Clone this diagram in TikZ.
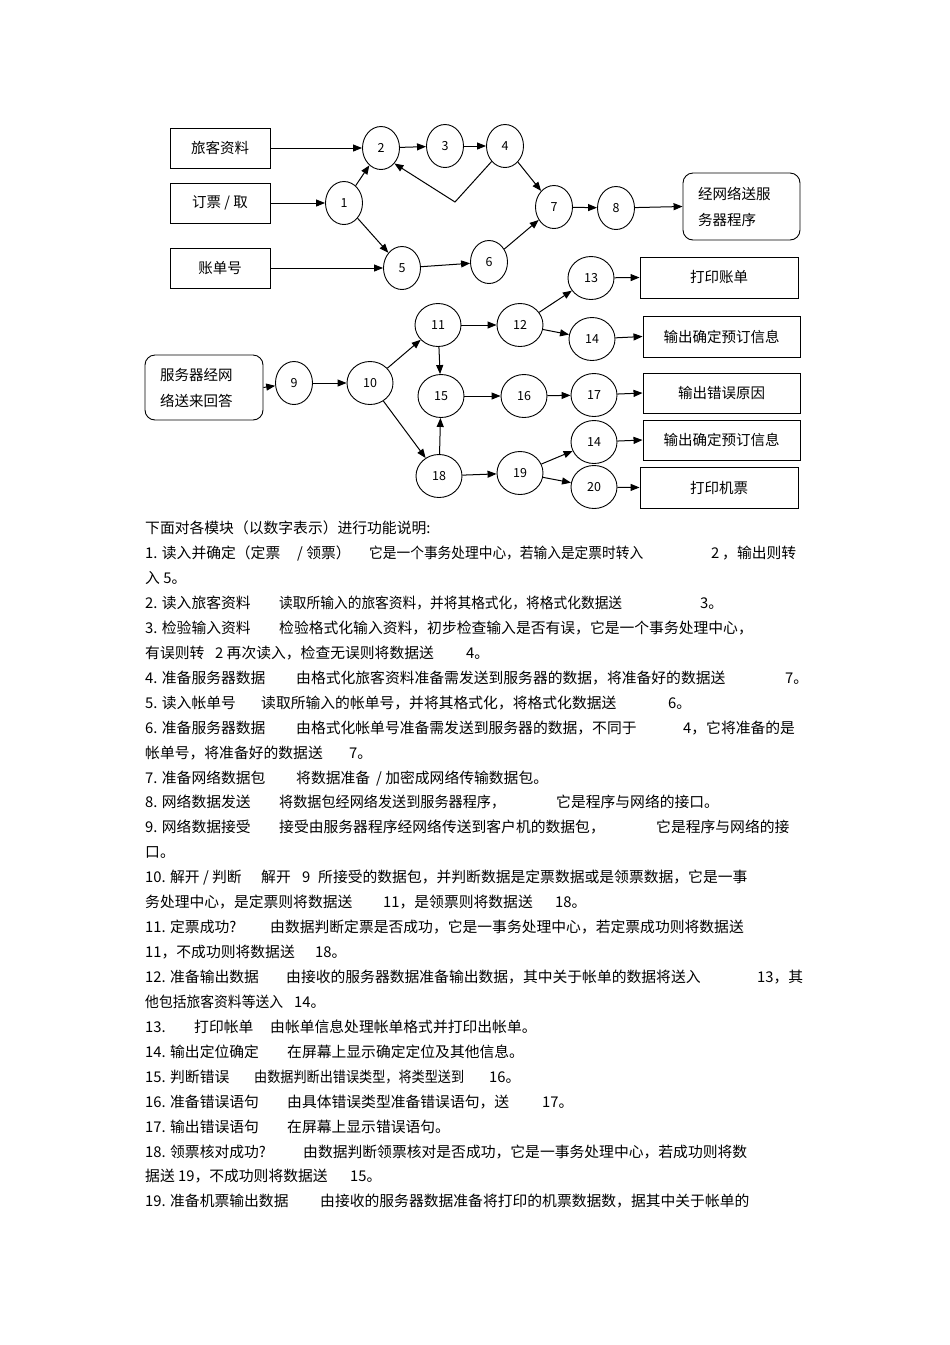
\documentclass[tikz,border=0pt]{standalone}
\usepackage{fontspec}
\usepackage{graphicx}
\setmainfont{Noto Sans CJK SC}
\usetikzlibrary{arrows.meta,shapes.geometric}
\newcommand\tx[3]{\node[txt] (t-#1-#2) at (#1,#2) {#3};}
\newcommand\tw[4]{\node[txt] (t-#1-#2) at (#1,#2) {\resizebox{#3pt}{\height}{#4}};}
\begin{document}
\begin{tikzpicture}[x=1pt,y=-1pt,
  circ/.style={draw,ellipse,line width=0.9pt,minimum width=37pt,minimum height=43pt,inner sep=0pt,font=\fontsize{12.5}{14}\selectfont},
  wcirc/.style={circ,minimum width=46pt},
  box/.style={draw,line width=0.9pt,inner sep=0pt,font=\fontsize{14.5}{17}\selectfont},
  rbox/.style={draw,line width=0.9pt,rounded corners=10pt,align=left,inner xsep=15pt,inner ysep=0pt,font=\fontsize{14.5}{26}\selectfont},
  arr/.style={-{Triangle[length=9pt,width=7pt]},line width=1pt},
  txt/.style={anchor=base west,inner sep=0pt,font=\fontsize{14.8}{17}\selectfont}]
\useasboundingbox[fill=white] (0,0) rectangle (950,1345);
% boxes
\node[box,minimum width=100pt,minimum height=40pt] (b1) at (220,148) {旅客资料\hspace{12pt}};
\node[box,minimum width=100pt,minimum height=40pt] (b2) at (220,203) {订票 / 取};
\node[box,minimum width=100pt,minimum height=40pt] (b3) at (220,268) {账单号};
\node[rbox,text width=87pt,minimum height=67pt] (ob) at (741.5,206.5) {经网络送服\\务器程序};
\node[rbox,text width=88pt,minimum height=65pt] (ib) at (204,387.5) {服务器经网\\络送来回答};
\node[box,minimum width=158pt,minimum height=41pt] (r13) at (719,277.5) {打印账单};
\node[box,minimum width=157pt,minimum height=41pt] (r14) at (721.5,336.5) {输出确定预订信息};
\node[box,minimum width=157pt,minimum height=40pt] (r17) at (721.5,393) {输出错误原因};
\node[box,minimum width=157pt,minimum height=40pt] (r14b) at (721.5,440) {输出确定预订信息};
\node[box,minimum width=158pt,minimum height=41pt] (r20) at (719,487.5) {打印机票};
% circles
\node[circ] (c1) at (344,203) {1};
\node[circ] (c2) at (381,148) {2};
\node[circ] (c3) at (445,146) {3};
\node[circ] (c4) at (505,146) {4};
\node[circ] (c5) at (402,268) {5};
\node[circ] (c6) at (489,262) {6};
\node[circ] (c7) at (554,207) {7};
\node[circ] (c8) at (616,208) {8};
\node[wcirc] (c13) at (591,278) {13};
\node[wcirc] (c11) at (438,325) {11};
\node[wcirc] (c12) at (520,325) {12};
\node[wcirc] (c14) at (592,339) {14};
\node[circ] (c9) at (294,383) {9};
\node[wcirc] (c10) at (370,383) {10};
\node[wcirc] (c15) at (441,396) {15};
\node[wcirc] (c16) at (524,396) {16};
\node[wcirc] (c17) at (594,395) {17};
\node[wcirc] (c14b) at (594,442) {14};
\node[wcirc] (c18) at (439,476) {18};
\node[wcirc] (c19) at (520,473) {19};
\node[wcirc] (c20) at (594,487) {20};
\coordinate (v) at (455,202);
% connectors
\draw[arr] (b1.east) -- (c2.west);
\draw[arr] (b2.east) -- (c1.west);
\draw[arr] (b3.east) -- (c5.west);
\draw[arr] (c1) -- (c2);
\draw[arr] (c1) -- (c5);
\draw[arr] (c2) -- (c3);
\draw[arr] (c3) -- (c4);
\draw[arr] (c4.south west) -- (v) -- (c2.south east);
\draw[arr] (c4) -- (c7);
\draw[arr] (c5) -- (c6);
\draw[arr] (c6) -- (c7);
\draw[arr] (c7) -- (c8);
\draw[arr] (c8) -- (ob.west);
\draw[arr] (ib.east) -- (c9);
\draw[arr] (c9) -- (c10);
\draw[arr] (c10) -- (c11);
\draw[arr] (c10) -- (c18);
\draw[arr] (c11) -- (c12);
\draw[arr] (c11) -- (c15);
\draw[arr] (c18) -- (c15);
\draw[arr] (c15) -- (c16);
\draw[arr] (c16) -- (c17);
\draw[arr] (c17) -- (r17.west);
\draw[arr] (c12) -- (c13);
\draw[arr] (c12) -- (c14);
\draw[arr] (c13) -- (r13.west);
\draw[arr] (c14) -- (r14.west);
\draw[arr] (c18) -- (c19);
\draw[arr] (c19) -- (c14b);
\draw[arr] (c19) -- (c20);
\draw[arr] (c14b) -- (r14b.west);
\draw[arr] (c20) -- (r20.west);
% text
\tx{145}{533}{下面对各模块（以数字表示）进行功能说明:}
\tx{145}{558}{1. 读入并确定（定票}\tx{297}{558}{/ 领票）}\tw{369}{558}{274}{它是一个事务处理中心，若输入是定票时转入}\tx{711}{558}{2}\tx{722}{558}{，输出则转}
\tx{145}{583}{入 5。}
\tx{145}{608}{2. 读入旅客资料}\tw{279}{608}{343}{读取所输入的旅客资料，并将其格式化，将格式化数据送}\tx{700}{608}{3。}
\tx{145}{633}{3. 检验输入资料}\tx{279}{633}{检验格式化输入资料，初步检查输入是否有误，它是一个事务处理中心，}
\tx{145}{658}{有误则转}\tx{215}{658}{2 再次读入，检查无误则将数据送}\tx{466}{658}{4。}
\tx{145}{683}{4. 准备服务器数据}\tx{296}{683}{由格式化旅客资料准备需发送到服务器的数据，将准备好的数据送}\tx{785}{683}{7。}
\tx{145}{708}{5. 读入帐单号}\tx{261}{708}{读取所输入的帐单号，并将其格式化，将格式化数据送}\tx{668}{708}{6。}
\tx{145}{733}{6. 准备服务器数据}\tx{296}{733}{由格式化帐单号准备需发送到服务器的数据，不同于}\tx{683}{733}{4，它将准备的是}
\tx{145}{758}{帐单号，将准备好的数据送}\tx{349}{758}{7。}
\tx{145}{783}{7. 准备网络数据包}\tx{296}{783}{将数据准备}\tx{376}{783}{/ 加密成网络传输数据包。}
\tx{145}{807}{8. 网络数据发送}\tw{279}{807}{226}{将数据包经网络发送到服务器程序，}\tx{556}{807}{它是程序与网络的接口。}
\tx{145}{832}{9. 网络数据接受}\tx{279}{832}{接受由服务器程序经网络传送到客户机的数据包，}\tx{656}{832}{它是程序与网络的接}
\tx{145}{857}{口。}
\tx{145}{882}{10. 解开 / 判断}\tx{261}{882}{解开}\tx{302}{882}{9}\tx{318}{882}{所接受的数据包，并判断数据是定票数据或是领票数据，它是一事}
\tx{145}{907}{务处理中心，是定票则将数据送}\tx{383}{907}{11，是领票则将数据送}\tx{555}{907}{18。}
\tx{145}{932}{11. 定票成功?}\tx{270}{932}{由数据判断定票是否成功，它是一事务处理中心，若定票成功则将数据送}
\tx{145}{957}{11，不成功则将数据送}\tx{315}{957}{18。}
\tx{145}{982}{12. 准备输出数据}\tx{286}{982}{由接收的服务器数据准备输出数据，其中关于帐单的数据将送入}\tx{757}{982}{13，其}
\tw{145}{1007}{138}{他包括旅客资料等送入}\tx{294}{1007}{14。}
\tx{145}{1032}{13.}\tx{194}{1032}{打印帐单}\tx{270}{1032}{由帐单信息处理帐单格式并打印出帐单。}
\tx{145}{1057}{14. 输出定位确定}\tx{287}{1057}{在屏幕上显示确定定位及其他信息。}
\tx{145}{1082}{15. 判断错误}\tw{254}{1082}{210}{由数据判断出错误类型，将类型送到}\tx{489}{1082}{16。}
\tx{145}{1107}{16. 准备错误语句}\tx{287}{1107}{由具体错误类型准备错误语句，送}\tx{542}{1107}{17。}
\tx{145}{1132}{17. 输出错误语句}\tx{287}{1132}{在屏幕上显示错误语句。}
\tx{145}{1157}{18. 领票核对成功?}\tx{303}{1157}{由数据判断领票核对是否成功，它是一事务处理中心，若成功则将数}
\tx{145}{1181}{据送 19，不成功则将数据送}\tx{350}{1181}{15。}
\tx{145}{1206}{19. 准备机票输出数据}\tx{320}{1206}{由接收的服务器数据准备将打印的机票数据数，据其中关于帐单的}
\end{tikzpicture}
\end{document}
